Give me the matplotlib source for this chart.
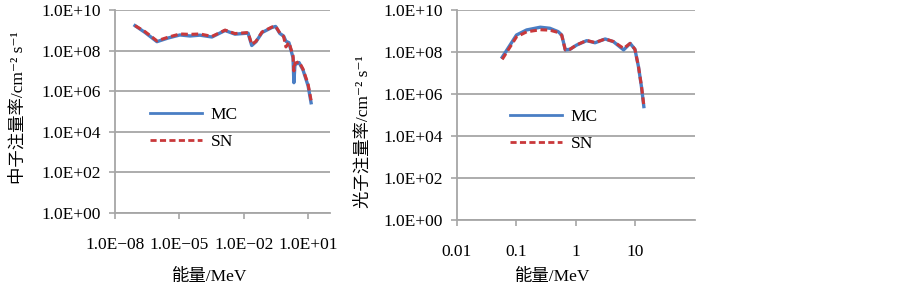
import numpy as np
import matplotlib
matplotlib.use("Agg")
import matplotlib.pyplot as plt
from matplotlib.ticker import FixedLocator, FuncFormatter, NullLocator

plt.rcParams['font.family'] = ['Liberation Serif', 'Noto Sans CJK SC', 'DejaVu Sans']

# ---------------- data ----------------
# Neutron spectrum (log10 energy [MeV], log10 flux)
n_logE_mc = [-7.07, -6.60, -6.05, -5.53, -4.98, -4.51, -4.05, -3.49, -2.88, -2.42,
             -1.81, -1.64, -1.44, -1.16, -0.70, -0.53, -0.33, -0.16, -0.05, 0.09,
             0.28, 0.32, 0.37, 0.56, 0.74, 0.98, 1.12]
n_logF_mc = [9.23, 8.89, 8.44, 8.62, 8.77, 8.72, 8.76, 8.67, 8.99, 8.81,
             8.86, 8.25, 8.44, 8.89, 9.14, 9.19, 8.84, 8.72, 8.46, 8.39,
             7.65, 6.42, 7.31, 7.41, 7.06, 6.27, 5.43]
n_logE_sn = [-7.07, -6.60, -6.05, -5.53, -4.98, -4.51, -4.05, -3.49, -2.88, -2.42,
             -1.81, -1.64, -1.44, -1.16, -0.70, -0.53, -0.33, -0.16, -0.05, 0.09,
             0.28, 0.32, 0.37, 0.56, 0.74, 0.98, 1.12]
n_logF_sn = [9.23, 8.93, 8.48, 8.66, 8.82, 8.80, 8.82, 8.70, 9.01, 8.84,
             8.89, 8.30, 8.46, 8.92, 9.16, 9.20, 8.86, 8.70, 8.18, 8.41,
             7.75, 7.00, 7.38, 7.45, 7.10, 6.35, 5.55]

# Photon spectrum
p_logE_mc = [-1.24, -1.00, -0.83, -0.60, -0.44, -0.30, -0.24, -0.18, -0.10, 0.01,
             0.18, 0.32, 0.49, 0.63, 0.80, 0.91, 0.99, 1.05, 1.10, 1.14]
p_logF_mc = [7.75, 8.81, 9.05, 9.18, 9.13, 8.97, 8.81, 8.10, 8.13, 8.33,
             8.54, 8.44, 8.62, 8.49, 8.10, 8.41, 8.13, 7.30, 6.35, 5.40]
p_logE_sn = [-1.24, -1.00, -0.83, -0.60, -0.44, -0.30, -0.24, -0.18, -0.10, 0.01,
             0.18, 0.32, 0.49, 0.63, 0.80, 0.91, 0.99, 1.05, 1.10, 1.14]
p_logF_sn = [7.65, 8.72, 8.96, 9.06, 9.04, 8.93, 8.80, 8.10, 8.13, 8.34,
             8.55, 8.45, 8.62, 8.50, 8.17, 8.41, 8.13, 7.30, 6.38, 5.45]

y_ticks = [1e0, 1e2, 1e4, 1e6, 1e8, 1e10]
n_xticks = [1e-8, 1e-5, 1e-2, 1e1]
n_xticklabels = ['1.0E\u221208', '1.0E\u221205', '1.0E\u221202', '1.0E+01']
p_xticks = [0.01, 0.1, 1, 10]
p_xticklabels = ['0.01', '0.1', '1', '10']

labels = ['MC', 'SN']
n_ylabel = '中子注量率/cm\u207b\u00b2 s\u207b\u00b9'
p_ylabel = '光子注量率/cm\u207b\u00b2 s\u207b\u00b9'
xlabel = '能量/MeV'

# ---------------- style ----------------
W, H = 903, 288
fig = plt.figure(figsize=(W / 100, H / 100), dpi=100)
BLUE = '#4A7EC4'
RED = '#C9383A'
GRID = '#A6A6A6'
FS = 12.5


def fmt_y(v, pos):
    e = int(round(np.log10(v)))
    return '1.0E+%02d' % e


def setup(ax, xlim, xticks, xticklabels):
    ax.set_xscale('log')
    ax.set_yscale('log')
    ax.set_xlim(*xlim)
    ax.set_ylim(1, 1e10)
    ax.yaxis.set_major_locator(FixedLocator(y_ticks))
    ax.yaxis.set_major_formatter(FuncFormatter(fmt_y))
    ax.yaxis.set_minor_locator(NullLocator())
    ax.xaxis.set_major_locator(FixedLocator(xticks))
    ax.set_xticklabels(xticklabels)
    ax.xaxis.set_minor_locator(NullLocator())
    ax.grid(axis='y', color=GRID, lw=1.3)
    ax.set_axisbelow(True)
    for s in ['top', 'right']:
        ax.spines[s].set_visible(False)
    for s in ['left', 'bottom']:
        ax.spines[s].set_color(GRID)
        ax.spines[s].set_linewidth(1.3)
    ax.tick_params(axis='y', length=4, width=1.2, color=GRID, pad=6, labelsize=FS)
    ax.tick_params(axis='x', length=4, width=1.2, color=GRID, pad=13, labelsize=FS)


def px_axes(x0, x1, y_top, y_bot):
    return fig.add_axes([x0 / W, 1 - y_bot / H, (x1 - x0) / W, (y_bot - y_top) / H])


# Left: neutrons
ax1 = px_axes(115, 330, 10, 213)
setup(ax1, (1e-8, 1e2), n_xticks, n_xticklabels)
ax1.plot(10 ** np.array(n_logE_mc), 10 ** np.array(n_logF_mc), color=BLUE, lw=2.4,
         label=labels[0], solid_joinstyle='round')
ax1.plot(10 ** np.array(n_logE_sn), 10 ** np.array(n_logF_sn), color=RED, lw=2.2,
         ls=(0, (2.2, 1.2)), label=labels[1])
ax1.set_ylabel(n_ylabel, fontsize=FS)
ax1.yaxis.set_label_coords(-0.41, 0.52)
ax1.set_xlabel(xlabel, fontsize=FS)
ax1.xaxis.set_label_coords(0.44, -0.275)

# Right: photons
ax2 = px_axes(457, 695, 10, 220)
setup(ax2, (0.01, 100), p_xticks, p_xticklabels)
ax2.plot(10 ** np.array(p_logE_mc), 10 ** np.array(p_logF_mc), color=BLUE, lw=2.4,
         label=labels[0])
ax2.plot(10 ** np.array(p_logE_sn), 10 ** np.array(p_logF_sn), color=RED, lw=2.2,
         ls=(0, (2.2, 1.2)), label=labels[1])
ax2.set_ylabel(p_ylabel, fontsize=FS)
ax2.yaxis.set_label_coords(-0.36, 0.42)
ax2.set_xlabel(xlabel, fontsize=FS)
ax2.xaxis.set_label_coords(0.40, -0.235)

for ax, x0, ytop, xa, xb, yb in [(ax1, 150, 107, 115, 330, 213), (ax2, 510, 109, 457, 695, 220)]:
    leg = ax.legend(loc='upper left',
                    bbox_to_anchor=((x0 - xa) / (xb - xa), (yb - ytop) / (yb - 10)),
                    frameon=False, fontsize=FS, handlelength=3.0, handletextpad=0.5,
                    labelspacing=0.6, borderpad=0, borderaxespad=0)
    for line in leg.get_lines():
        line.set_linewidth(2.0)

fig.savefig('out.png', dpi=100)
